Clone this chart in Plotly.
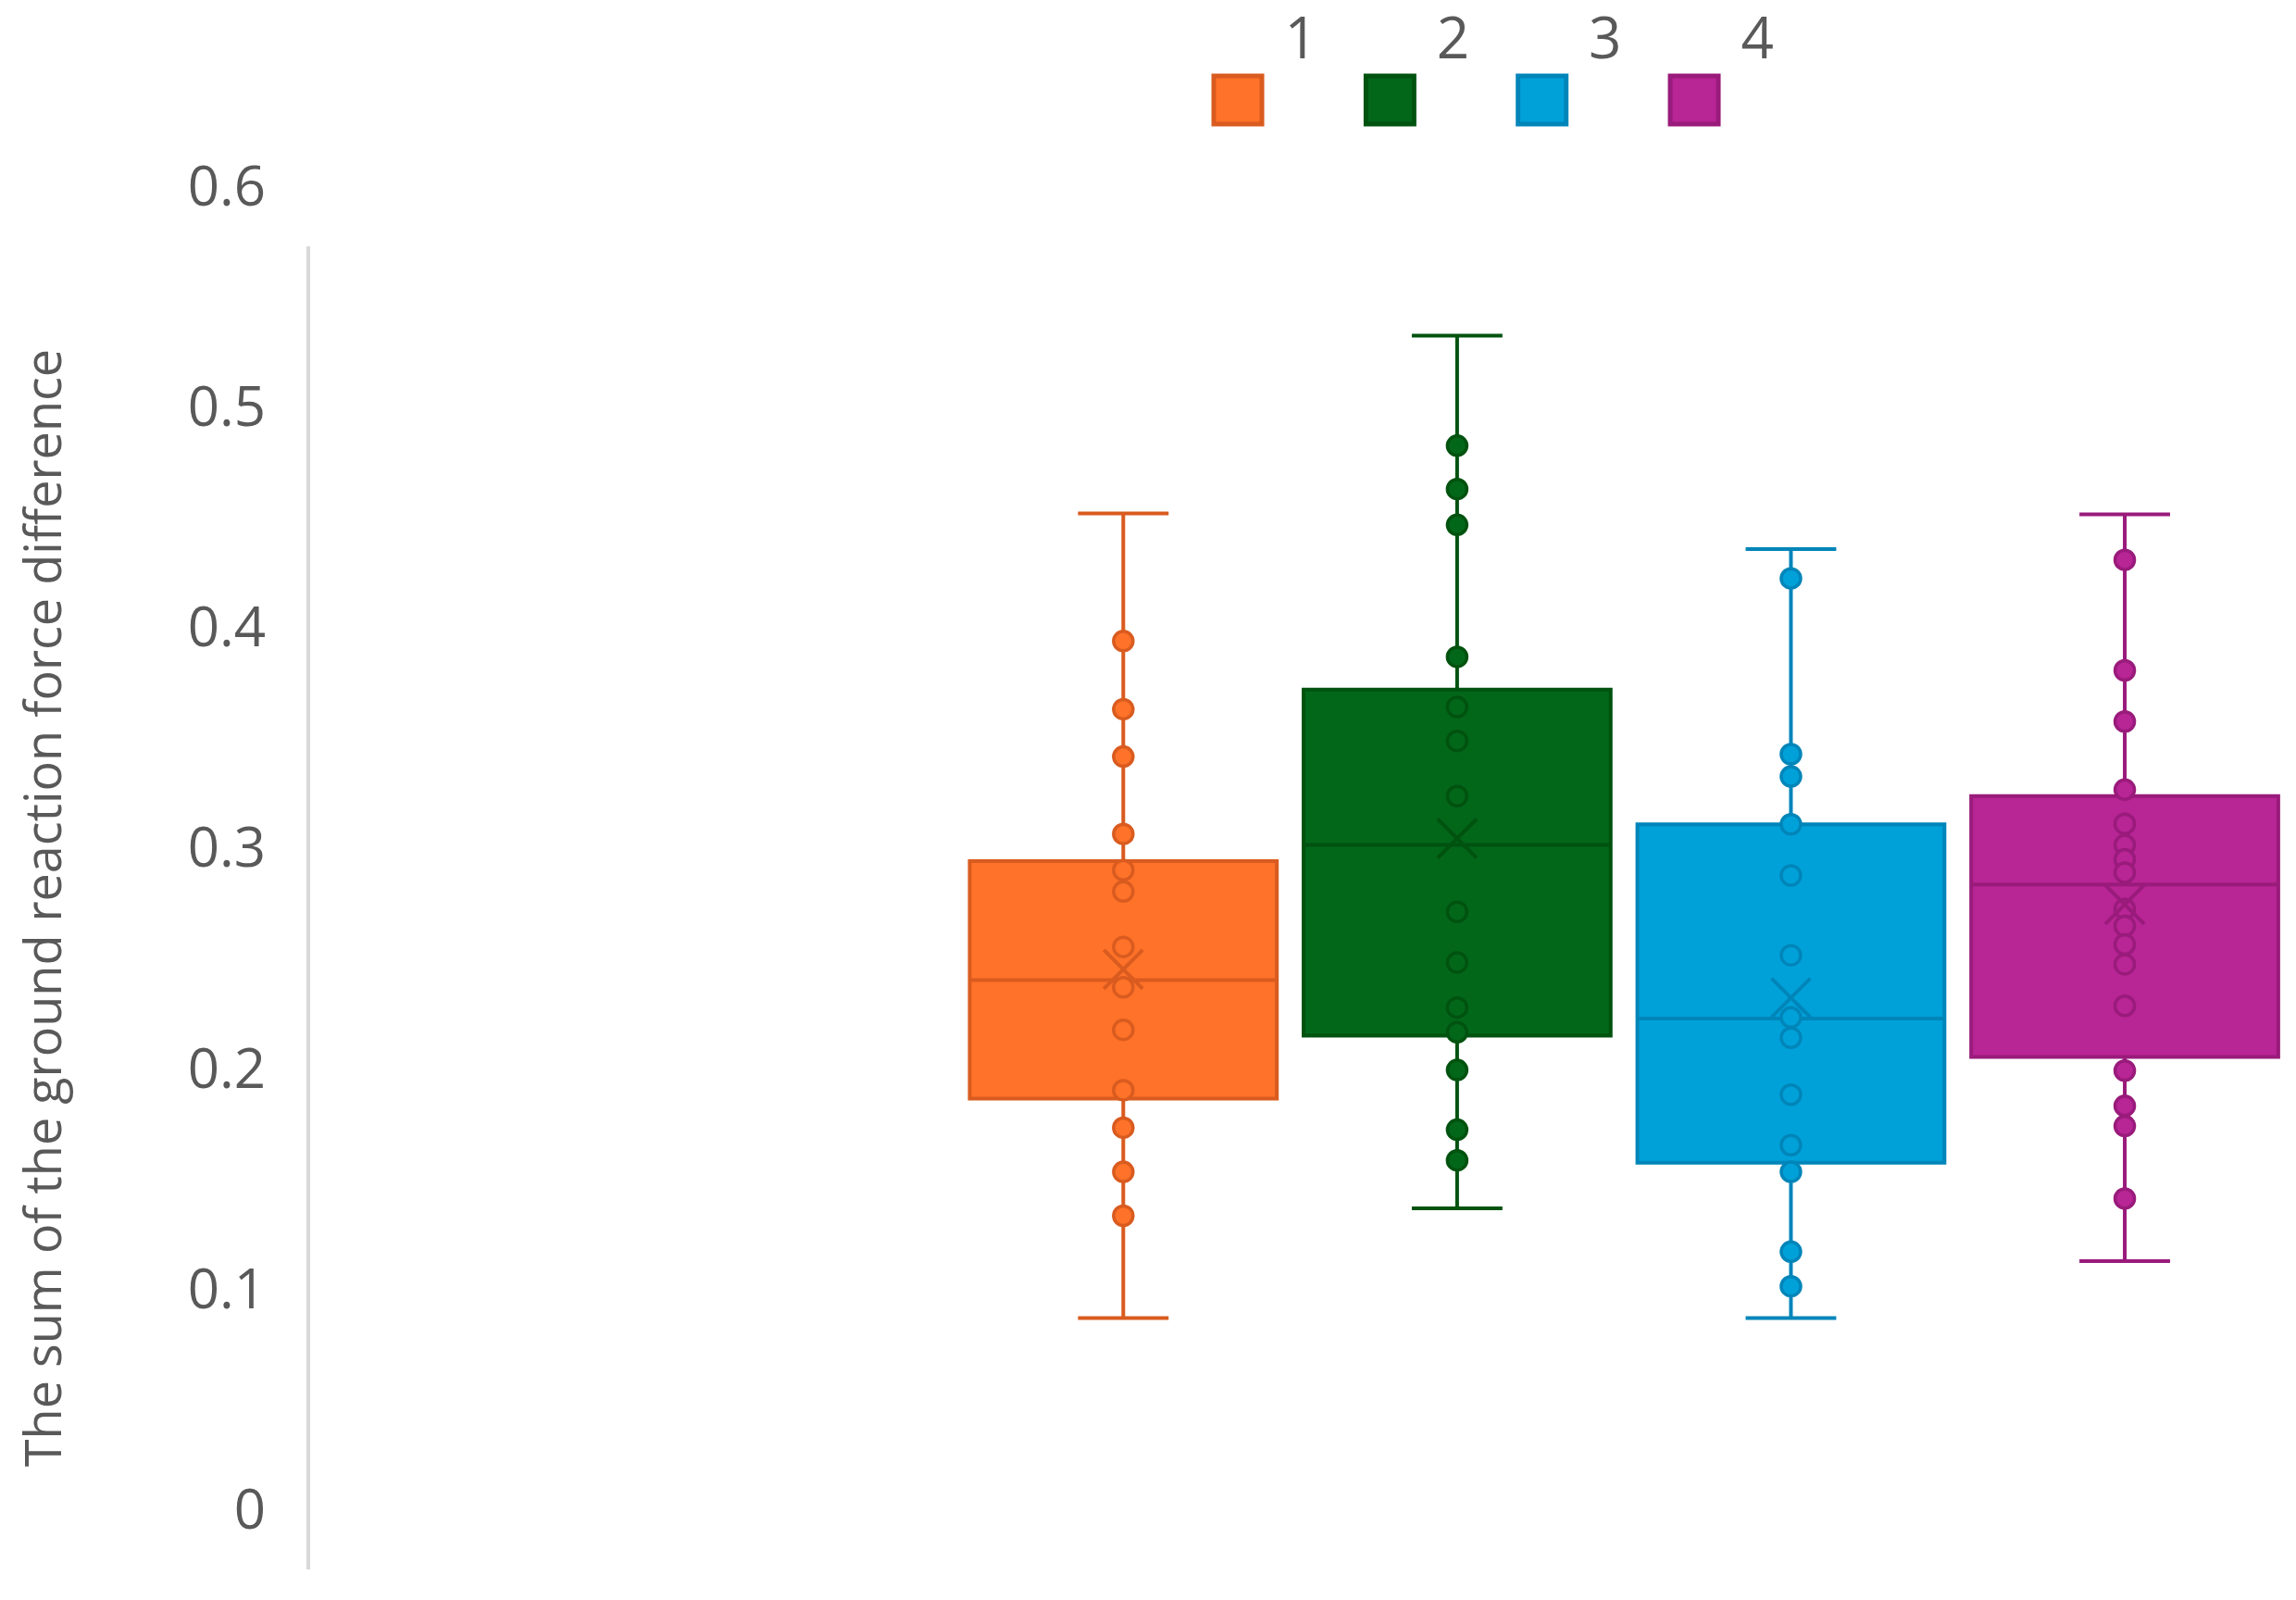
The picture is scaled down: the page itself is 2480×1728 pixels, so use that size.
import plotly.graph_objects as go

# ---------------- data ----------------
groups = ["1", "2", "3", "4"]

fill_colors = ["#FF7229", "#03671A", "#00A1D9", "#B82595"]
line_colors = ["#D95B1F", "#00520F", "#0085B9", "#991B7B"]

# box statistics
q1 = [0.2135, 0.2421, 0.1844, 0.2324]
median = [0.2672, 0.3285, 0.2498, 0.3106]
q3 = [0.3212, 0.3990, 0.3379, 0.3507]
lower_whisker = [0.1140, 0.1637, 0.1140, 0.1398]
upper_whisker = [0.4789, 0.5595, 0.4627, 0.4784]
means = [0.2721, 0.3315, 0.2592, 0.3015]

# inner points shown on each box
points_1 = [0.4210, 0.3901, 0.3686, 0.3335, 0.3171, 0.3074, 0.2823, 0.2640,
            0.2447, 0.2173, 0.2003, 0.1803, 0.1604]
points_2 = [0.5096, 0.4899, 0.4737, 0.4138, 0.3911, 0.3757, 0.3507, 0.2982,
            0.2752, 0.2548, 0.2436, 0.2265, 0.1994, 0.1855]
points_3 = [0.4494, 0.3697, 0.3596, 0.3379, 0.3147, 0.2785, 0.2503, 0.2411,
            0.2153, 0.1924, 0.1803, 0.1441, 0.1284]
points_4 = [0.4578, 0.4077, 0.3845, 0.3536, 0.3381, 0.3285, 0.3220, 0.3160,
            0.2995, 0.2918, 0.2834, 0.2744, 0.2556, 0.2262, 0.2102, 0.2011, 0.1682]
inner_points = [points_1, points_2, points_3, points_4]

y_tick_vals = [0, 0.1, 0.2, 0.3, 0.4, 0.5, 0.6]
y_tick_text = ["0", "0.1", "0.2", "0.3", "0.4", "0.5", "0.6"]
y_title = "The sum of the ground reaction force difference"

# ---------------- figure ----------------
FONT = "Open Sans, Noto Sans, sans-serif"
TEXT_COLOR = "#595959"

fig = go.Figure()
positions = list(range(1, len(groups) + 1))

for i, g in enumerate(groups):
    pos = positions[i]
    fig.add_trace(go.Box(
        x=[pos], q1=[q1[i]], median=[median[i]], q3=[q3[i]],
        lowerfence=[lower_whisker[i]], upperfence=[upper_whisker[i]],
        name=g, boxpoints=False, width=0.92, whiskerwidth=0.295,
        fillcolor=fill_colors[i],
        line=dict(color=line_colors[i], width=4),
        showlegend=False, hoverinfo="skip",
    ))
    fig.add_trace(go.Scatter(
        x=[pos] * len(inner_points[i]), y=inner_points[i], mode="markers",
        marker=dict(size=21, color=fill_colors[i],
                    line=dict(color=line_colors[i], width=3.5)),
        showlegend=False, hoverinfo="skip",
    ))
    fig.add_trace(go.Scatter(
        x=[pos], y=[means[i]], mode="markers",
        marker=dict(symbol="x-thin", size=42,
                    line=dict(color=line_colors[i], width=4)),
        showlegend=False, hoverinfo="skip",
    ))

# legend drawn as a marker row on its own small axes: swatches ...
fig.add_trace(go.Scatter(
    x=positions, y=[0] * len(groups), mode="markers",
    marker=dict(symbol="square", size=52, color=fill_colors,
                line=dict(color=line_colors, width=5)),
    xaxis="x2", yaxis="y2", cliponaxis=False,
    showlegend=False, hoverinfo="skip",
))
# ... and their labels, above and to the right of each swatch
fig.add_trace(go.Scatter(
    x=positions, y=[0] * len(groups), mode="markers+text",
    text=["\u2004" + g for g in groups], textposition="top right",
    textfont=dict(family=FONT, size=62, color=TEXT_COLOR),
    marker=dict(symbol="square", size=46, opacity=0),
    xaxis="x2", yaxis="y2", cliponaxis=False,
    showlegend=False, hoverinfo="skip",
))

# page has an 8px body margin, so the figure is 8px smaller than the window
W, H = 2472, 1720
fig.update_layout(
    width=W, height=H,
    margin=dict(l=327, r=0, t=0, b=33, pad=0, autoexpand=False),
    paper_bgcolor="white", plot_bgcolor="white",
    font=dict(family=FONT, color=TEXT_COLOR),
    showlegend=False,
    xaxis=dict(range=[-1.4359, 4.513], visible=False, domain=[0, 1],
               automargin=False),
    yaxis=dict(
        range=[0, 0.6], domain=[0, 0.84707], automargin=False,
        tickvals=y_tick_vals, ticktext=y_tick_text,
        tickfont=dict(family=FONT, size=60, color=TEXT_COLOR),
        ticks="", showgrid=False, zeroline=False,
        showline=True, linecolor="#D9D9D9", linewidth=4,
        ticklabelshift=-65, ticklabelstandoff=32,
        title=dict(text=y_title, font=dict(family=FONT, size=54, color=TEXT_COLOR),
                   standoff=130),
    ),
    xaxis2=dict(range=[-5.0975, 7.955], domain=[0, 1], anchor="y2",
                visible=False, fixedrange=True, automargin=False),
    yaxis2=dict(range=[-1.2, 0.881], domain=[0.86, 1.0], anchor="x2",
                visible=False, fixedrange=True, automargin=False),
)

fig.write_html("out.html")
